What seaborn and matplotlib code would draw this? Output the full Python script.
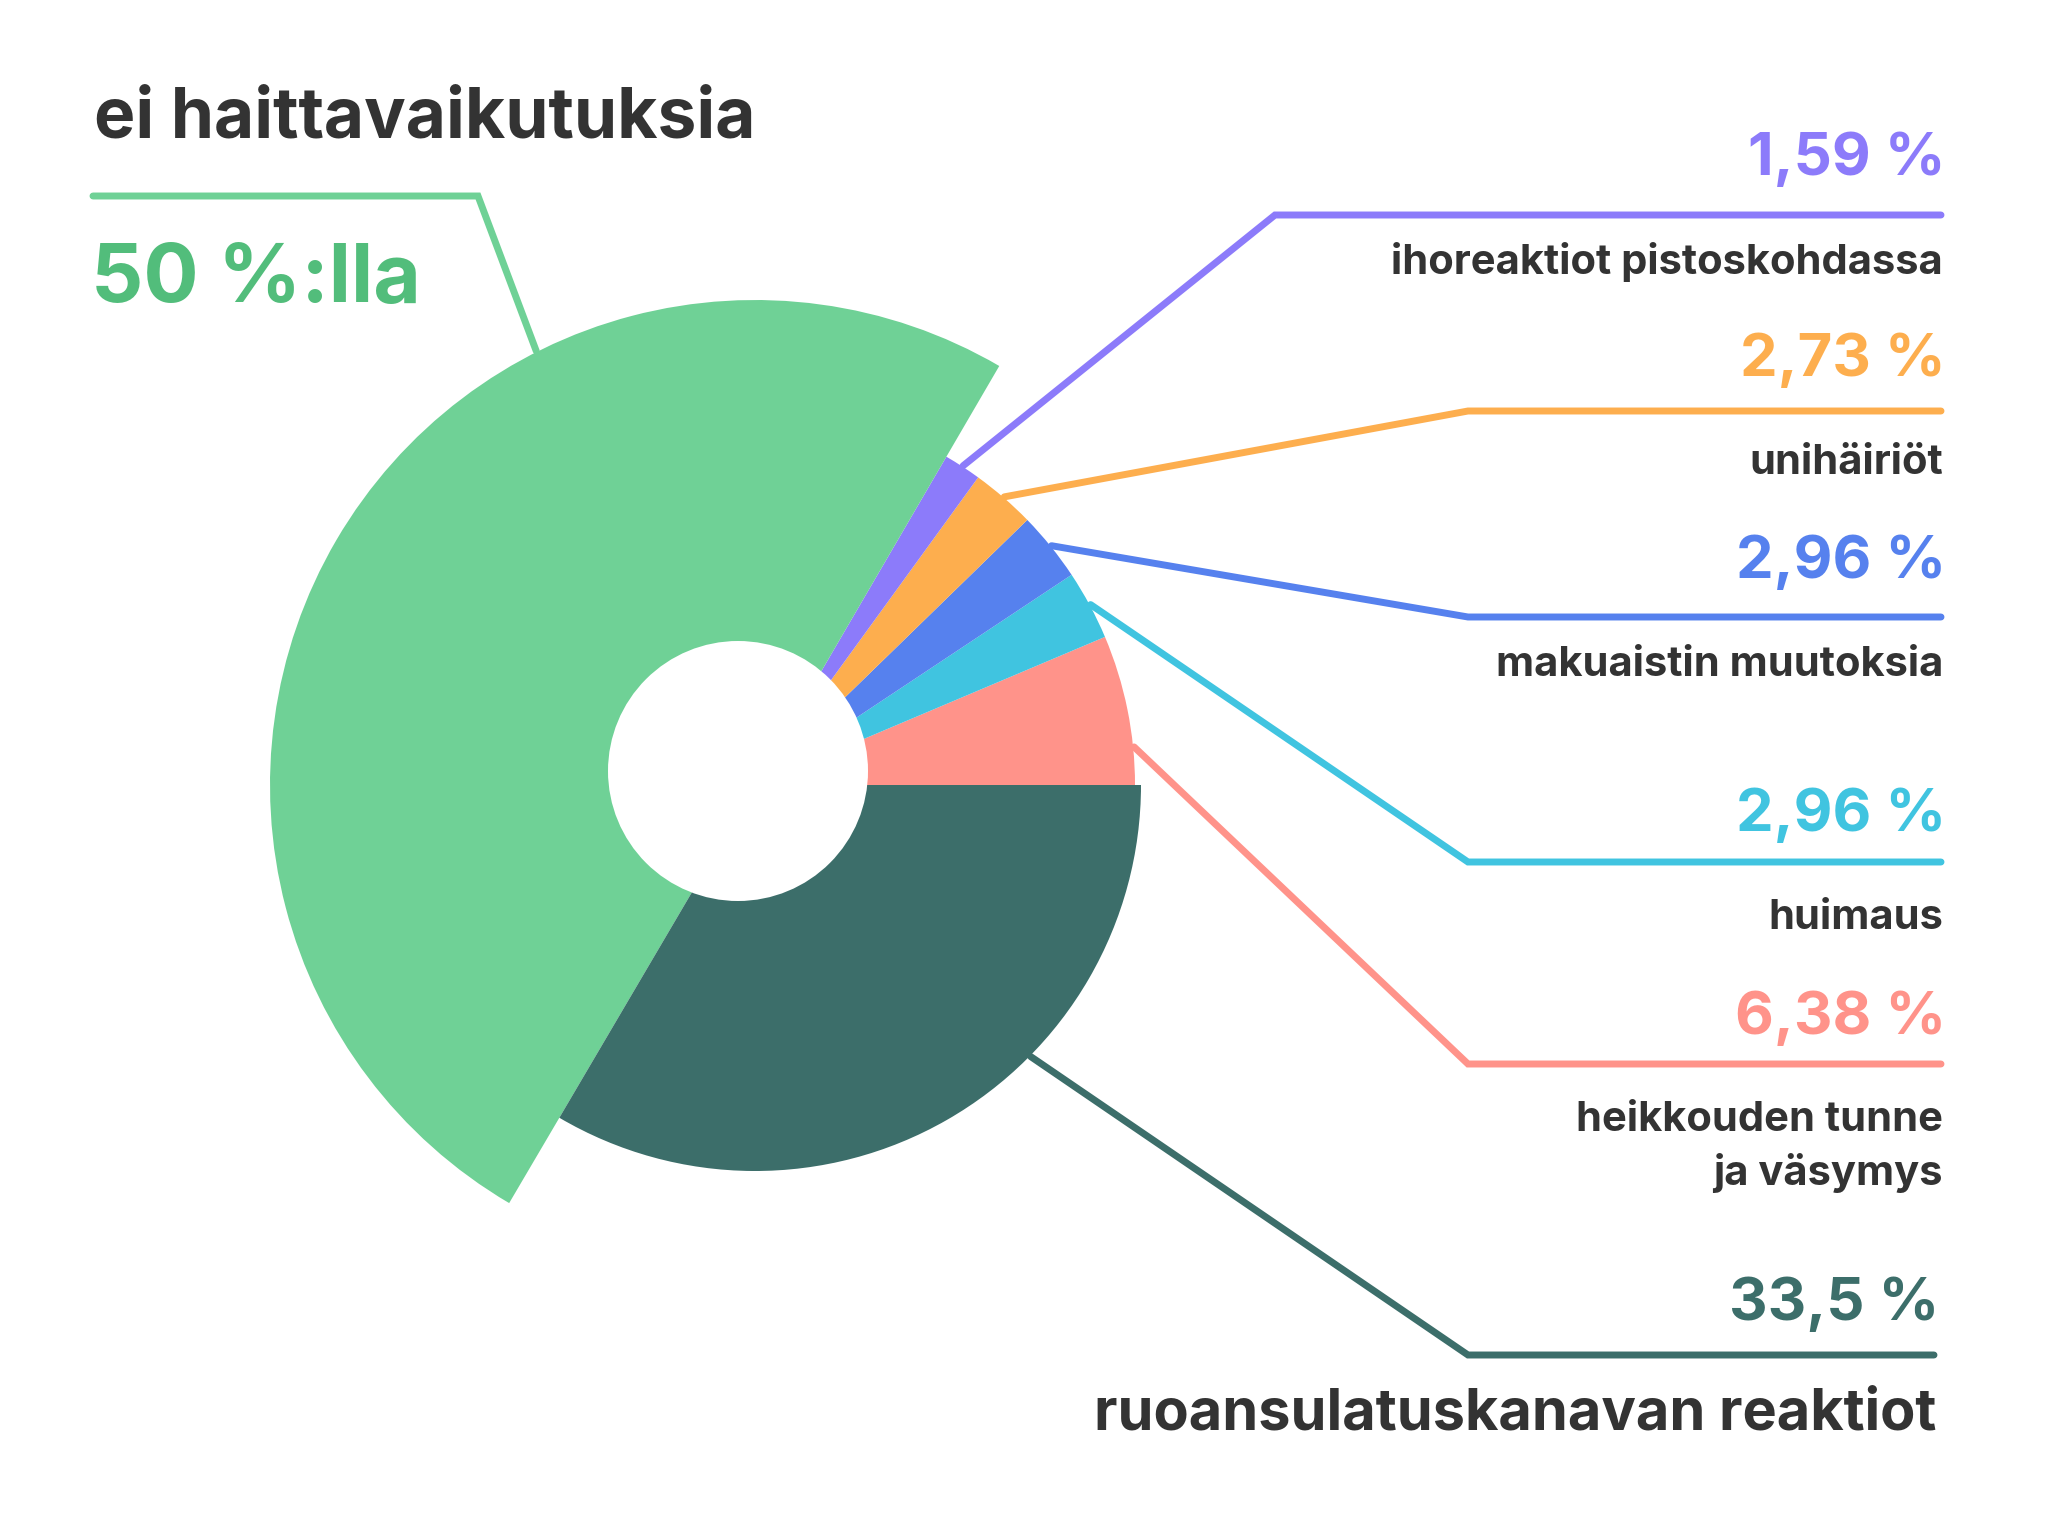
import numpy as np
import pandas as pd
import seaborn as sns
import matplotlib.pyplot as plt
from matplotlib.patches import Circle

sns.set_theme(style="white")
plt.rcParams['font.family'] = ['Inter', 'DejaVu Sans']

# data (order: counterclockwise from 3 o'clock)
categories = ["heikkouden tunne\nja väsymys", "huimaus", "makuaistin muutoksia",
              "unihäiriöt", "ihoreaktiot pistoskohdassa", "ei haittavaikutuksia",
              "ruoansulatuskanavan reaktiot"]
shares = [6.38, 2.96, 2.96, 2.73, 1.59, 50.0, 33.5]
share_labels = ["6,38 %", "2,96 %", "2,96 %", "2,73 %", "1,59 %", "50 %:lla", "33,5 %"]
colors = ["#FF938A", "#40C4E0", "#5681EE", "#FDAE4E", "#8C7BFA", "#6FD196", "#3C6E6A"]
palette = sns.color_palette(colors)

df = pd.DataFrame({"category": categories, "share": shares, "label": share_labels})

# layout (pixels)
cx, cy = 755, 785
radii = [380, 380, 380, 380, 380, 485, 386]
anchor_frac = [0.25, 0.5, 0.5, 0.5, 0.5, 0.317, 0.63]   # where the leader leaves the wedge
text_dark = "#333333"

fig = plt.figure(figsize=(20.46, 15.24), dpi=100)
ax = fig.add_axes([0, 0, 1, 1])

# y axis points down, so draw clockwise in data -> counterclockwise on screen
wedges, _ = ax.pie(df["share"], colors=palette, startangle=0, counterclock=False,
                   radius=380, center=(cx, cy), wedgeprops=dict(linewidth=0))
for w, r in zip(wedges, radii):
    w.set_radius(r)
ax.add_patch(Circle((738, 771), 130, facecolor="white", edgecolor="none", zorder=3))

ax.set_xlim(0, 2046)
ax.set_ylim(1524, 0)
ax.set_axis_off()

# screen angle of each leader anchor
tot = df["share"].sum()
edges = np.concatenate([[0], np.cumsum(df["share"])]) / tot * 360
anchors = [edges[i] + anchor_frac[i] * (edges[i + 1] - edges[i]) for i in range(len(df))]

# right-side leaders: knee x, line y, right end
knee_x = [1468, 1468, 1468, 1468, 1275, None, 1468]
line_y = [1064, 862, 617, 411, 215, None, 1355]
end_x = [1941, 1941, 1941, 1941, 1941, None, 1934]
pct_y = [1034, 831, 578, 376, 175, None, 1320]
name_y = [1131, 929, 676, 474, 274, None, 1429]
name_size = [30, 30, 30, 30, 30, None, 41.5]
lw = 5

for i in range(len(df)):
    a = np.deg2rad(anchors[i])
    sx = cx + (radii[i] + 1) * np.cos(a)
    sy = cy - (radii[i] + 1) * np.sin(a)
    c = colors[i]
    if knee_x[i] is None:
        continue
    ax.plot([sx, knee_x[i], end_x[i]], [sy, line_y[i], line_y[i]], color=c, lw=lw,
            solid_capstyle="round", solid_joinstyle="miter", zorder=2)
    ax.text(end_x[i] + 5, pct_y[i], df["label"][i], color=c, fontsize=43, fontweight="bold",
            ha="right", va="baseline")
    for k, line in enumerate(df["category"][i].split("\n")):
        ax.text(end_x[i] + 2, name_y[i] + 54 * k, line, color=text_dark, fontsize=name_size[i],
                fontweight="bold", ha="right", va="baseline")

# green leader on the left
g = 5
a = np.deg2rad(anchors[g])
sx = cx + (radii[g] + 1) * np.cos(a)
sy = cy - (radii[g] + 1) * np.sin(a)
ax.plot([sx, 478, 93], [sy, 196, 196], color=colors[g], lw=lw,
        solid_capstyle="round", solid_joinstyle="miter", zorder=2)
ax.text(94, 138, df["category"][g], color=text_dark, fontsize=50, fontweight="bold",
        ha="left", va="baseline")
ax.text(91, 302, df["label"][g], color="#52BD7B", fontsize=59, fontweight="bold",
        ha="left", va="baseline")

fig.savefig("out.png", dpi=100, facecolor="white")
